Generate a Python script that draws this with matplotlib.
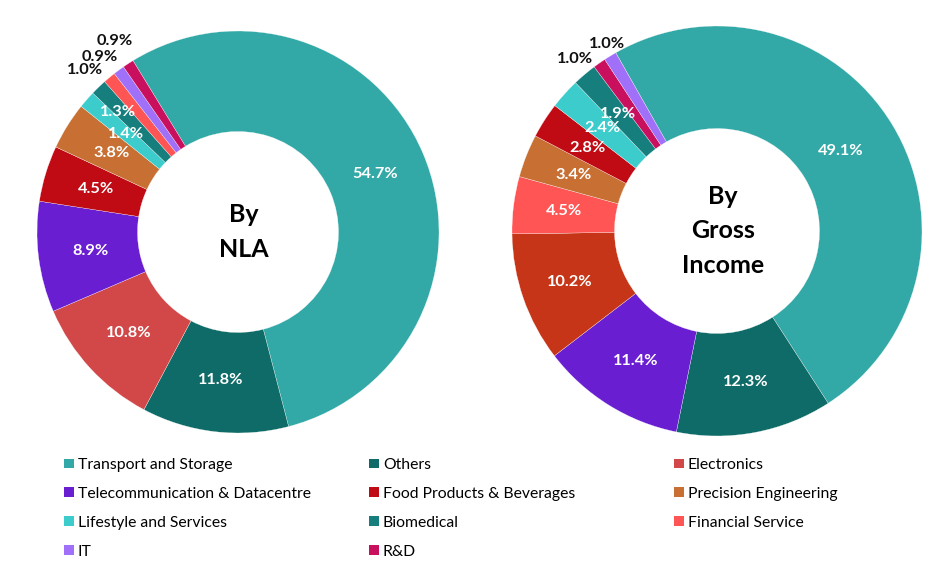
import numpy as np
import matplotlib
matplotlib.use("Agg")
import matplotlib.pyplot as plt
from matplotlib.patches import Patch

plt.rcParams['font.family'] = ['Lato', 'DejaVu Sans']

# legend order (as in the reference)
categories = ["Transport and Storage", "Others", "Electronics",
              "Telecommunication & Datacentre", "Food Products & Beverages",
              "Precision Engineering", "Lifestyle and Services", "Biomedical",
              "Financial Service", "IT", "R&D"]
colors = {"Transport and Storage": "#33A9A7", "Others": "#0E6B67",
          "Electronics": "#D24848", "Telecommunication & Datacentre": "#6A1ED2",
          "Food Products & Beverages": "#C00A14", "Precision Engineering": "#C87033",
          "Lifestyle and Services": "#3DCCCC", "Biomedical": "#167F7E",
          "Financial Service": "#FF5555", "IT": "#A070F8", "R&D": "#C8105F"}

# By NLA (clockwise from Transport)
nla_cats = ["Transport and Storage", "Others", "Electronics",
            "Telecommunication & Datacentre", "Food Products & Beverages",
            "Precision Engineering", "Lifestyle and Services", "Biomedical",
            "Financial Service", "IT", "R&D"]
nla_vals = [54.7, 11.8, 10.8, 8.9, 4.5, 3.8, 1.4, 1.3, 1.0, 0.9, 0.9]

# By Gross Income (clockwise from Transport)
gi_cats = ["Transport and Storage", "Others", "Telecommunication & Datacentre",
           "Electronics", "Financial Service", "Precision Engineering",
           "Food Products & Beverages", "Lifestyle and Services", "Biomedical",
           "R&D", "IT"]
gi_vals = [49.1, 12.3, 11.4, 10.2, 4.5, 3.4, 2.8, 2.4, 1.9, 1.0, 1.0]

# label placement: (radius, angle shift in deg), outside labels drawn in black
nla_lab = [(0.74, 0), (0.74, 0), (0.74, 0), (0.74, 0), (0.74, 0), (0.74, 0),
           (0.74, 0), (0.845, 1.0), (1.11, 3.6), (1.11, 1.9), (1.13, -0.3)]
gi_lab = [(0.72, 1.5), (0.75, 0), (0.75, 0), (0.76, 0), (0.75, 0), (0.75, 0),
          (0.75, 0), (0.75, 0), (0.75, 0), (1.09, 4.6), (1.06, -0.9)]

W, H = 948, 575
fig = plt.figure(figsize=(W / 100, H / 100), dpi=100)


def donut(cx, cy, R, cats, vals, labs, start, title, cols):
    ax = fig.add_axes([(cx - R) / W, (H - cy - R) / H, 2 * R / W, 2 * R / H])
    wedges, _ = ax.pie(vals, colors=[cols[c] for c in cats], startangle=start,
                       counterclock=False, radius=1,
                       wedgeprops=dict(width=0.5, edgecolor='white', linewidth=0.2))
    ax.set_xlim(-1, 1)
    ax.set_ylim(-1, 1)
    for w, v, (r, d) in zip(wedges, vals, labs):
        mid = np.deg2rad((w.theta1 + w.theta2) / 2 + d)
        outside = r > 1
        ax.text(r * np.cos(mid), r * np.sin(mid), "%.1f%%" % v,
                ha='center', va='center', fontsize=11.8, fontweight='bold',
                color='#111111' if outside else 'white', clip_on=False)
    ax.text(0.03, 0, title, ha='center', va='center', fontsize=18,
            fontweight='bold', linespacing=1.62, color='black')
    return ax


donut(238, 232, 201, nla_cats, nla_vals, nla_lab, 121.5, "By\nNLA", colors)
gi_colors = dict(colors)
gi_colors["Electronics"] = "#C63517"
donut(717, 231, 205, gi_cats, gi_vals, gi_lab, 119.6, "By\nGross\nIncome", gi_colors)

# legend in three columns
columns = [categories[0::3], categories[1::3], categories[2::3]]
col_x = [64, 369, 674]
for xs, names in zip(col_x, columns):
    handles = [Patch(facecolor=colors[n], edgecolor='none', label=n) for n in names]
    fig.legend(handles=handles, loc='upper left',
               bbox_to_anchor=(xs / W, 1 - 458 / H), frameon=False,
               fontsize=11.3, borderpad=0, borderaxespad=0,
               handlelength=0.63, handleheight=0.58, handletextpad=0.25,
               labelspacing=0.95)

fig.savefig("out.png", dpi=100)
